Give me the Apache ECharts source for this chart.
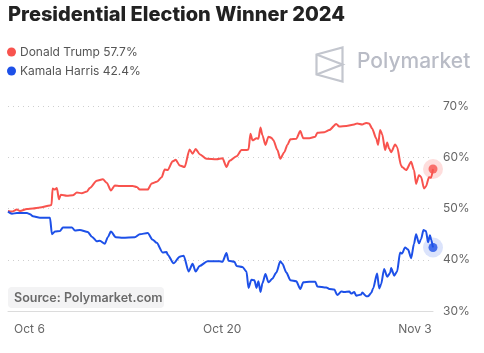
<!DOCTYPE html>
<html>
<head>
<meta charset="utf-8">
<script src="https://cdn.jsdelivr.net/npm/echarts@6/dist/echarts.min.js"></script>
<style>
  html, body { margin: 0; padding: 0; background: #fff; }
  #chart { width: 484px; height: 353px; }
</style>
</head>
<body>
<div id="chart"></div>
<script>
// x values are days counted from Oct 1 (Oct 6 = 5, Nov 3 = 33)
const tickDays = [5, 19, 33];
const tickLabels = ['Oct 6', 'Oct 20', 'Nov 3'];
const yTicks = [30, 40, 50, 60, 70];

const trumpDays = [3.44, 3.73, 4.09, 4.31, 4.82, 5.25, 5.76, 6.49, 6.60, 6.68, 6.85, 6.99, 7.14, 7.28, 7.72, 8.15, 8.44, 8.80, 9.17, 9.38, 9.89, 10.33, 10.62, 10.91, 11.20, 11.56, 12.50, 12.79, 13.01, 13.59, 13.88, 14.24, 14.60, 14.82, 15.04, 15.40, 15.62, 15.91, 16.27, 16.63, 16.85, 17.07, 17.36, 17.86, 18.59, 19.02, 19.31, 19.53, 20.04, 20.40, 20.76, 20.91, 21.05, 21.20, 21.49, 21.63, 21.78, 21.92, 22.14, 22.36, 22.57, 22.72, 23.01, 23.22, 23.51, 23.73, 23.95, 24.38, 24.67, 24.89, 25.33, 25.76, 25.91, 26.42, 26.78, 27.28, 27.50, 28.01, 28.59, 28.80, 29.17, 29.46, 29.67, 29.89, 30.18, 30.32, 30.47, 30.62, 30.83, 30.98, 31.12, 31.27, 31.56, 31.70, 31.99, 32.06, 32.36, 32.72, 32.93, 33.08, 33.29, 33.44, 33.66, 33.80, 34.02, 34.17, 34.31];
const trumpPct = [49.5, 49.4, 49.8, 49.5, 49.9, 50.0, 50.2, 50.6, 50.7, 53.9, 53.7, 54.0, 51.8, 52.7, 52.5, 52.6, 53.1, 53.0, 53.3, 54.0, 55.4, 55.7, 55.0, 53.5, 54.5, 54.4, 54.4, 54.2, 53.7, 53.7, 54.9, 55.2, 56.1, 57.6, 57.5, 59.2, 59.5, 58.4, 58.1, 61.5, 60.7, 61.6, 60.6, 59.7, 59.6, 59.8, 58.1, 59.3, 60.2, 61.4, 61.4, 61.5, 64.6, 63.3, 63.7, 63.6, 65.8, 64.3, 62.4, 64.0, 63.8, 63.3, 61.4, 59.7, 61.0, 62.4, 63.5, 63.6, 65.1, 63.7, 63.7, 64.0, 64.8, 64.9, 65.3, 66.5, 66.0, 66.1, 66.4, 66.6, 66.4, 66.7, 66.6, 65.6, 63.7, 62.4, 65.3, 64.5, 61.4, 62.9, 61.7, 61.0, 62.5, 62.0, 58.4, 58.1, 57.5, 59.1, 57.5, 54.8, 56.5, 56.2, 53.9, 54.3, 56.1, 56.0, 57.7];

const harrisDays = [3.44, 3.73, 4.09, 4.82, 5.04, 5.25, 5.76, 6.49, 6.63, 6.85, 7.21, 7.43, 8.08, 8.30, 8.66, 9.24, 9.53, 9.89, 10.11, 10.47, 10.69, 10.91, 11.27, 11.78, 12.65, 13.01, 13.59, 13.95, 14.24, 14.67, 14.96, 15.04, 15.47, 15.91, 16.20, 16.56, 16.85, 17.07, 17.36, 17.93, 18.80, 19.02, 19.31, 19.46, 19.89, 20.04, 20.47, 20.76, 20.91, 21.12, 21.34, 21.49, 21.63, 21.78, 21.92, 22.14, 22.36, 22.64, 22.93, 23.22, 23.37, 23.66, 23.95, 24.38, 24.67, 24.89, 25.33, 25.76, 25.91, 26.56, 26.78, 27.14, 27.36, 27.65, 27.86, 28.23, 28.37, 28.59, 28.73, 29.09, 29.17, 29.46, 29.60, 29.82, 29.96, 30.25, 30.40, 30.54, 30.76, 30.98, 31.20, 31.27, 31.49, 31.70, 31.92, 32.06, 32.28, 32.50, 32.72, 32.93, 33.08, 33.29, 33.44, 33.62, 33.80, 33.95, 34.09, 34.17, 34.31];
const harrisPct = [49.4, 49.0, 49.1, 49.1, 48.9, 48.5, 48.2, 48.2, 45.0, 45.5, 45.6, 46.3, 46.3, 45.7, 45.8, 45.4, 44.5, 43.6, 43.7, 43.1, 44.4, 45.5, 44.4, 44.3, 44.4, 45.0, 45.2, 43.9, 43.3, 41.4, 41.5, 41.0, 39.3, 40.6, 40.8, 37.7, 39.2, 37.7, 38.8, 39.7, 39.7, 39.6, 41.3, 39.8, 39.6, 38.8, 38.6, 37.7, 34.5, 36.1, 36.0, 34.5, 35.8, 33.7, 35.4, 37.2, 35.6, 36.3, 37.5, 39.7, 39.2, 37.5, 36.0, 35.8, 34.3, 35.6, 35.7, 35.7, 34.8, 34.6, 34.3, 34.2, 33.1, 33.8, 33.7, 33.8, 33.4, 33.7, 33.0, 33.2, 33.6, 32.9, 32.9, 33.5, 34.4, 37.3, 34.4, 35.2, 38.2, 36.7, 37.4, 38.4, 36.9, 37.7, 41.4, 41.2, 42.4, 42.0, 40.3, 43.1, 45.0, 43.2, 44.0, 45.8, 45.6, 43.4, 44.8, 44.0, 42.4];

const red = '#f8534e';
const blue = '#1d50e8';
const font = 'Inter, "Noto Sans", sans-serif';

function zip(xs, ys) {
  return xs.map((x, i) => [x, ys[i]]);
}
const tLast = trumpPct[trumpPct.length - 1];
const hLast = harrisPct[harrisPct.length - 1];
const lastDay = trumpDays[trumpDays.length - 1];
const legendText = { 'Donald Trump': tLast, 'Kamala Harris': hLast };

const chart = echarts.init(document.getElementById('chart'), null, { renderer: 'canvas' });

chart.setOption({
  animation: false,
  textStyle: { fontFamily: font },
  title: {
    text: 'Presidential Election Winner 2024',
    left: 8, top: 5, padding: 0,
    textStyle: { fontSize: 20, fontWeight: 800, color: '#222', fontFamily: font }
  },
  legend: {
    data: ['Donald Trump', 'Kamala Harris'],
    orient: 'vertical',
    left: 7, top: 46, padding: 0,
    itemGap: 7, itemWidth: 9, itemHeight: 9,
    icon: 'circle',
    formatter: name => name + ' ' + legendText[name] + '%',
    textStyle: { fontSize: 12, color: '#555', fontFamily: font, padding: [0, 0, 0, -1] }
  },
  grid: { left: 8, right: 51, top: 106, bottom: 42 },
  xAxis: {
    type: 'value',
    min: trumpDays[0], max: lastDay,
    axisLine: { lineStyle: { color: '#dcdcdc', width: 1 } },
    axisTick: { show: false },
    splitLine: { show: false },
    axisLabel: {
      customValues: tickDays,
      formatter: v => tickLabels[tickDays.indexOf(v)],
      color: '#666', fontSize: 12, margin: 12, fontFamily: font
    }
  },
  yAxis: {
    type: 'value',
    position: 'right',
    min: yTicks[0], max: yTicks[yTicks.length - 1], interval: 10,
    axisLine: { show: false },
    axisTick: { show: false },
    axisLabel: { formatter: '{value}%', color: '#666', fontSize: 12, margin: 10, fontFamily: font },
    splitLine: { lineStyle: { color: '#cfcfcf', width: 1, type: [1, 4] } }
  },
  series: [
    {
      name: 'Donald Trump', type: 'line', data: zip(trumpDays, trumpPct),
      showSymbol: false, smooth: 0.25, smoothMonotone: 'x',
      color: red, lineStyle: { width: 2, color: red }
    },
    {
      name: 'Kamala Harris', type: 'line', data: zip(harrisDays, harrisPct),
      showSymbol: false, smooth: 0.25, smoothMonotone: 'x',
      color: blue, lineStyle: { width: 2, color: blue }
    },
    {
      name: 'halo', type: 'scatter', symbolSize: 20, silent: true,
      data: [
        { value: [lastDay, tLast], itemStyle: { color: 'rgba(248,83,78,0.25)' } },
        { value: [lastDay, hLast], itemStyle: { color: 'rgba(29,80,232,0.2)' } }
      ]
    },
    {
      name: 'dot', type: 'scatter', symbolSize: 9, silent: true,
      data: [
        { value: [lastDay, tLast], itemStyle: { color: red } },
        { value: [lastDay, hLast], itemStyle: { color: blue } }
      ]
    }
  ],
  graphic: [
    {
      type: 'group', left: 314, top: 45,
      children: [
        { type: 'polygon', shape: { points: [[1, 8], [27, 1], [27, 35], [1, 28]] },
          style: { fill: 'none', stroke: '#c3c6ce', lineWidth: 2.2 } },
        { type: 'polyline', shape: { points: [[1, 8], [27, 18], [1, 28]] },
          style: { fill: 'none', stroke: '#c3c6ce', lineWidth: 2.2 } }
      ]
    },
    {
      type: 'text', left: 357, top: 51,
      style: { text: 'Polymarket', fill: '#b9bcc6', fontSize: 21, fontWeight: 500, fontFamily: font }
    },
    {
      type: 'group', left: 8, top: 287,
      children: [
        { type: 'rect', shape: { x: 0, y: 0, width: 156, height: 21, r: 4 },
          style: { fill: '#f3f3f4' } },
        { type: 'text', x: 6, y: 11,
          style: { text: 'Source: Polymarket.com', fill: '#6a6a6a', fontSize: 12.5, fontWeight: 600,
                   fontFamily: font, verticalAlign: 'middle' } }
      ]
    }
  ]
});
</script>
</body>
</html>
